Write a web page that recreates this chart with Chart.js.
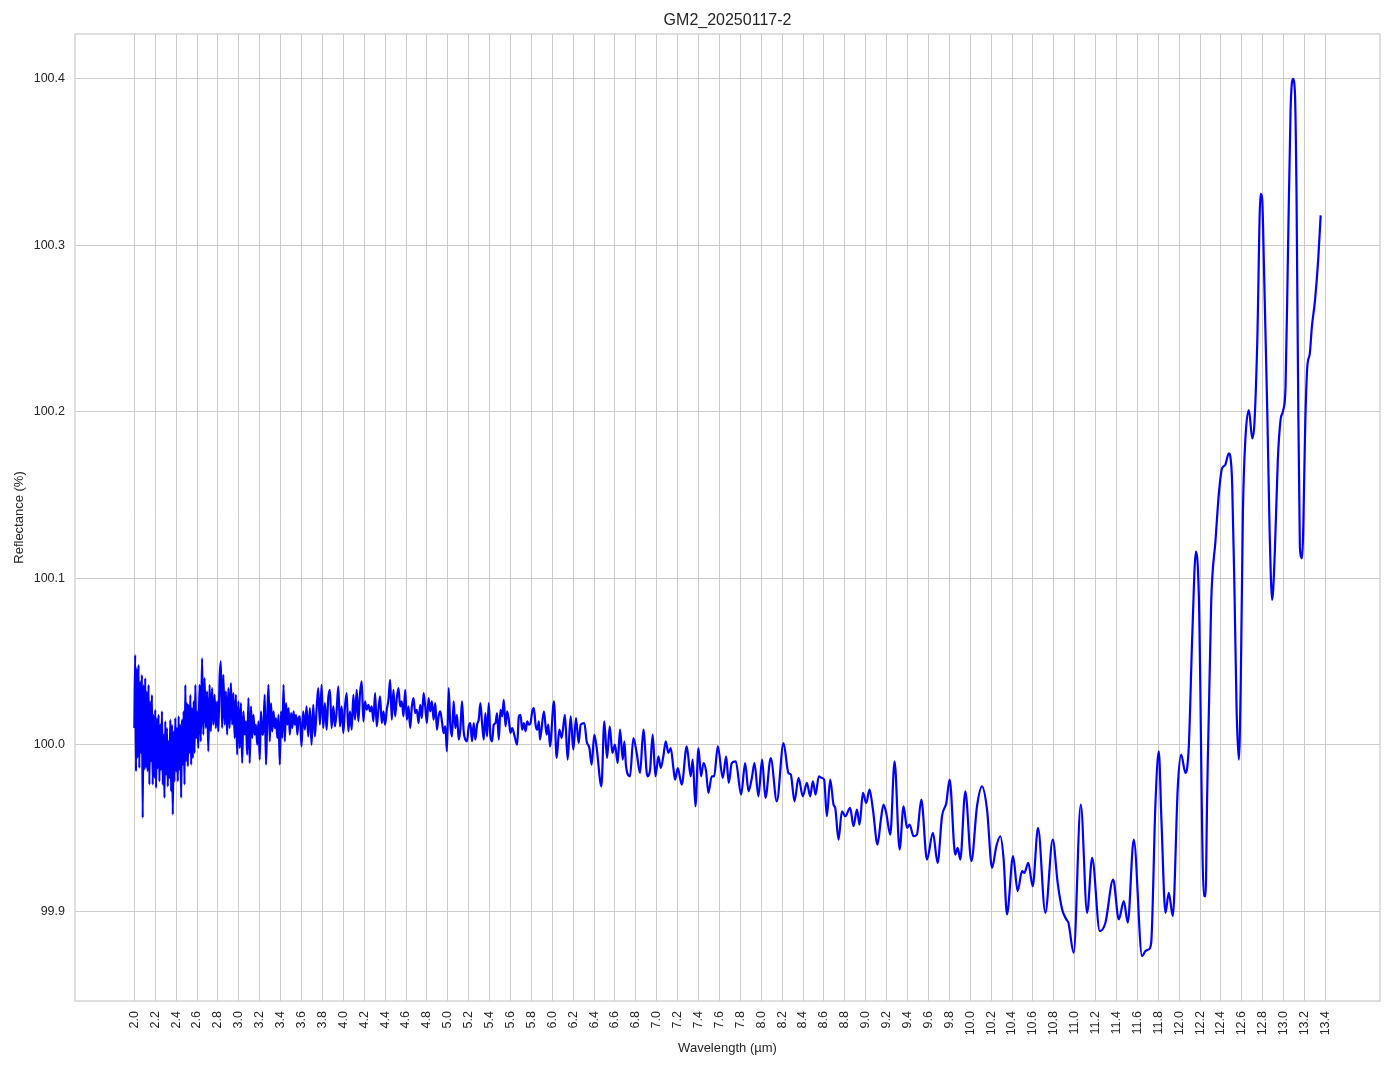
<!DOCTYPE html>
<html>
<head>
<meta charset="utf-8">
<script src="https://cdn.jsdelivr.net/npm/chart.js@4.4.1/dist/chart.umd.min.js"></script>
<style>
  html, body { margin: 0; padding: 0; background: #fff; }
  #myChart { display: block; }
</style>
</head>
<body>
<canvas id="myChart" width="1394" height="1069"></canvas>
<script>
// Datos
const titulo = 'GM2_20250117-2';

// Tramos con muestreo regular: inicio y paso en µm
const tramoInicio = [2.0, 2.6, 3.584];
const tramoPaso = [0.008, 0.012, 0.016];

const reflA = [
  100.010, 100.054, 99.984, 100.046, 99.992, 100.048, 99.986, 100.038, 99.995, 100.042,
  99.956, 100.036, 99.985, 100.040, 99.986, 100.032, 99.984, 100.036, 99.976, 100.026,
  99.990, 100.030, 99.976, 100.018, 99.980, 100.021, 99.974, 100.016, 99.986, 100.018,
  99.978, 100.012, 99.985, 100.020, 99.976, 100.006, 99.968, 100.014, 99.982, 100.010,
  99.975, 100.002, 99.980, 100.015, 99.972, 100.012, 99.958, 100.008, 99.978, 100.016,
  99.984, 100.010, 99.978, 100.017, 99.985, 100.012, 99.968, 100.015, 99.988, 100.020,
  99.976, 100.036, 99.990, 100.025, 99.987, 100.024, 99.995, 100.030, 99.988, 100.022,
  99.992, 100.026, 99.995, 100.036, 100.004
];

const reflB = [
  100.020, 99.998, 100.036, 100.002, 100.052, 100.006, 100.040, 100.010, 100.032, 99.996,
  100.036, 100.008, 100.034, 100.012, 100.030, 100.010, 100.026, 100.008, 100.040, 100.050,
  100.010, 100.042, 100.012, 100.032, 100.006, 100.034, 100.010, 100.037, 100.012, 100.031,
  100.004, 100.030, 99.994, 100.026, 99.998, 100.025, 99.989, 100.020, 100.006, 100.014,
  99.994, 100.028, 99.989, 100.023, 100.004, 100.018, 100.006, 100.012, 100.000, 100.014,
  99.991, 100.020, 100.006, 100.010, 100.030, 99.988, 100.016, 100.036, 100.002, 100.025,
  100.008, 100.020, 100.010, 100.016, 100.004, 100.018, 99.988, 100.020, 100.004, 100.036,
  100.002, 100.025, 100.012, 100.022, 100.006, 100.019, 100.010, 100.020, 100.012, 100.018,
  100.006, 100.016
];

const reflC = [
  100.017, 99.999, 100.020, 100.009, 100.023, 100.005, 100.022, 100.000, 100.024, 100.005,
  100.021, 100.034, 100.012, 100.036, 100.010, 100.025, 100.009, 100.028, 100.033, 100.010,
  100.023, 100.011, 100.020, 100.035, 100.011, 100.023, 100.007, 100.023, 100.031, 100.008,
  100.020, 100.009, 100.030, 100.015, 100.033, 100.014, 100.031, 100.038, 100.014, 100.026,
  100.021, 100.024, 100.020, 100.023, 100.014, 100.031, 100.011, 100.021, 100.029, 100.013,
  100.020, 100.012, 100.021, 100.027, 100.039, 100.015, 100.033, 100.017, 100.028, 100.034,
  100.023, 100.026, 100.017, 100.033, 100.015, 100.023, 100.010, 100.023, 100.028, 100.019,
  100.021, 100.013, 100.024, 100.016, 100.031, 100.023, 100.013, 100.028, 100.020, 100.026,
  100.015, 100.025, 100.009, 100.017, 100.020, 100.014, 100.007, 100.011, 99.996, 100.034,
  100.012, 100.005, 100.026, 100.010, 100.018, 100.003, 100.009, 100.026, 100.008, 100.003,
  100.002, 100.011, 100.013, 100.002, 100.013, 100.003, 100.012, 100.015, 100.025, 100.013,
  100.003, 100.019, 100.005, 100.025, 100.005, 100.002, 100.012, 100.013, 100.019, 100.003,
  100.021, 100.017, 100.027, 100.011, 100.020, 100.015, 100.007, 100.010, 100.007, 100.003,
  100.000, 100.017, 100.018, 100.009, 100.013, 100.008, 100.014, 100.012, 100.013, 100.020,
  100.022, 100.012, 100.009, 100.014
];

// Tramo final con muestreo irregular
const waveD = [
  5.882, 5.920, 5.946, 5.962, 5.978, 6.016, 6.042, 6.067, 6.090, 6.121,
  6.147, 6.176, 6.201, 6.227, 6.252, 6.272, 6.307, 6.329, 6.355, 6.377,
  6.402, 6.425, 6.470, 6.498, 6.524, 6.550, 6.575, 6.600, 6.626, 6.648,
  6.675, 6.690, 6.706, 6.744, 6.776, 6.808, 6.840, 6.872, 6.910, 6.936,
  6.961, 6.987, 7.016, 7.038, 7.063, 7.086, 7.111, 7.134, 7.159, 7.175,
  7.201, 7.239, 7.287, 7.325, 7.344, 7.370, 7.399, 7.424, 7.447, 7.472,
  7.494, 7.526, 7.549, 7.584, 7.632, 7.664, 7.689, 7.718, 7.756, 7.807,
  7.846, 7.878, 7.910, 7.935, 7.973, 8.008, 8.040, 8.091, 8.149, 8.213,
  8.260, 8.283, 8.318, 8.357, 8.398, 8.437, 8.468, 8.494, 8.520, 8.551,
  8.580, 8.602, 8.628, 8.660, 8.692, 8.708, 8.740, 8.772, 8.804, 8.851,
  8.883, 8.916, 8.941, 8.973, 9.005, 9.036, 9.069, 9.113, 9.145, 9.170,
  9.196, 9.235, 9.276, 9.324, 9.362, 9.395, 9.420, 9.458, 9.490, 9.532,
  9.586, 9.643, 9.688, 9.730, 9.771, 9.803, 9.857, 9.880, 9.905, 9.953,
  10.011, 10.065, 10.113, 10.161, 10.209, 10.250, 10.288, 10.320, 10.352, 10.410,
  10.454, 10.496, 10.518, 10.556, 10.598, 10.649, 10.719, 10.790, 10.837, 10.880,
  10.920, 10.940, 10.990, 11.058, 11.119, 11.167, 11.240, 11.294, 11.368, 11.422,
  11.470, 11.508, 11.565, 11.645, 11.677, 11.709, 11.732, 11.773, 11.805, 11.830,
  11.869, 11.900, 11.939, 11.987, 12.019, 12.060, 12.092, 12.125, 12.160, 12.188,
  12.236, 12.252, 12.268, 12.306, 12.348, 12.380, 12.410, 12.440, 12.475, 12.490,
  12.507, 12.530, 12.550, 12.571, 12.590, 12.610, 12.635, 12.667, 12.700, 12.720,
  12.747, 12.779, 12.795, 12.810, 12.843, 12.865, 12.890, 12.915, 12.944, 12.970,
  12.996, 13.018, 13.040, 13.066, 13.088, 13.107, 13.123, 13.136, 13.155, 13.176,
  13.210, 13.226, 13.250, 13.270, 13.300, 13.330, 13.354
];
const reflD = [
  100.003, 100.020, 100.006, 100.012, 99.999, 100.026, 99.992, 100.009, 100.004, 100.018,
  99.991, 100.017, 99.997, 100.016, 100.001, 100.012, 100.013, 100.002, 99.998, 99.988,
  100.006, 99.998, 99.975, 100.014, 99.992, 100.011, 99.995, 100.000, 99.989, 100.009,
  99.991, 100.002, 99.987, 99.981, 100.004, 99.995, 99.983, 100.009, 99.981, 99.985,
  100.006, 99.981, 99.993, 99.986, 99.993, 100.002, 99.995, 99.998, 99.986, 99.979,
  99.986, 99.976, 99.999, 99.981, 99.991, 99.963, 99.998, 99.981, 99.989, 99.984,
  99.971, 99.981, 99.981, 99.999, 99.980, 99.993, 99.977, 99.989, 99.990, 99.970,
  99.989, 99.972, 99.980, 99.989, 99.969, 99.991, 99.968, 99.992, 99.966, 100.001,
  99.983, 99.982, 99.966, 99.980, 99.969, 99.977, 99.969, 99.978, 99.970, 99.981,
  99.980, 99.979, 99.957, 99.979, 99.964, 99.962, 99.943, 99.960, 99.957, 99.962,
  99.951, 99.961, 99.952, 99.971, 99.965, 99.973, 99.961, 99.940, 99.955, 99.964,
  99.959, 99.946, 99.990, 99.937, 99.963, 99.950, 99.952, 99.945, 99.946, 99.967,
  99.931, 99.947, 99.929, 99.957, 99.965, 99.979, 99.934, 99.938, 99.931, 99.972,
  99.930, 99.963, 99.975, 99.961, 99.926, 99.939, 99.945, 99.931, 99.898, 99.933,
  99.912, 99.924, 99.923, 99.929, 99.915, 99.950, 99.899, 99.943, 99.917, 99.901,
  99.895, 99.893, 99.875, 99.964, 99.899, 99.932, 99.888, 99.893, 99.919, 99.895,
  99.906, 99.893, 99.943, 99.873, 99.876, 99.877, 99.881, 99.965, 99.996, 99.955,
  99.899, 99.911, 99.897, 99.975, 99.994, 99.983, 99.999, 100.065, 100.116, 100.090,
  99.909, 99.909, 99.970, 100.085, 100.123, 100.151, 100.166, 100.168, 100.175, 100.173,
  100.157, 100.090, 100.020, 99.991, 100.040, 100.140, 100.185, 100.201, 100.184, 100.193,
  100.241, 100.331, 100.327, 100.291, 100.201, 100.130, 100.087, 100.115, 100.171, 100.195,
  100.201, 100.215, 100.291, 100.381, 100.400, 100.393, 100.331, 100.231, 100.119, 100.112,
  100.201, 100.227, 100.235, 100.251, 100.267, 100.291, 100.318
];

// Marcas de los ejes
const xTicks = [
  2.0, 2.2, 2.4, 2.6, 2.8, 3.0, 3.2, 3.4, 3.6, 3.8,
  4.0, 4.2, 4.4, 4.6, 4.8, 5.0, 5.2, 5.4, 5.6, 5.8,
  6.0, 6.2, 6.4, 6.6, 6.8, 7.0, 7.2, 7.4, 7.6, 7.8,
  8.0, 8.2, 8.4, 8.6, 8.8, 9.0, 9.2, 9.4, 9.6, 9.8,
  10.0, 10.2, 10.4, 10.6, 10.8, 11.0, 11.2, 11.4, 11.6, 11.8,
  12.0, 12.2, 12.4, 12.6, 12.8, 13.0, 13.2, 13.4
];
const yTicks = [99.9, 100.0, 100.1, 100.2, 100.3, 100.4];

const fuente = '"Liberation Sans", Arial, sans-serif';
const gris = '#262626';

/**
 * * Construye los puntos {x, y} del espectro
 */
function construir_puntos() {
  let puntos = [];
  [reflA, reflB, reflC].forEach((valores, t) => {
    valores.forEach((v, i) => {
      puntos.push({ x: +(tramoInicio[t] + i * tramoPaso[t]).toFixed(4), y: v });
    });
  });
  waveD.forEach((w, i) => puntos.push({ x: w, y: reflD[i] }));
  return puntos;
}

// Marco y título
const marco = {
  id: 'marco',
  beforeDatasetsDraw(chart) {
    const { ctx, chartArea: a } = chart;
    ctx.save();
    ctx.strokeStyle = '#cccccc';
    ctx.lineWidth = 1.25;
    ctx.strokeRect(a.left, a.top, a.right - a.left, a.bottom - a.top);
    ctx.restore();
  },
  afterDraw(chart) {
    const { ctx, chartArea: a } = chart;
    ctx.save();
    ctx.font = '16px ' + fuente;
    ctx.fillStyle = gris;
    ctx.textAlign = 'center';
    ctx.textBaseline = 'middle';
    ctx.fillText(titulo, (a.left + a.right) / 2, 21);
    ctx.restore();
  }
};

const ctx = document.getElementById('myChart');
new Chart(ctx, {
  type: 'line',
  data: {
    datasets: [{
      data: construir_puntos(),
      borderColor: '#0000ff',
      borderWidth: 2.2,
      pointRadius: 0,
      cubicInterpolationMode: 'monotone',
      fill: false
    }]
  },
  options: {
    responsive: false,
    animation: false,
    layout: { padding: { top: 34, right: 14, bottom: 0, left: 0 } },
    plugins: {
      legend: { display: false },
      tooltip: { enabled: false }
    },
    scales: {
      x: {
        type: 'linear',
        min: 1.432,
        max: 13.922,
        afterFit: (s) => { s.height = 68; },
        afterBuildTicks: (s) => { s.ticks = xTicks.map(v => ({ value: v })); },
        grid: { color: '#cccccc', lineWidth: 1, drawTicks: false },
        border: { display: false },
        ticks: {
          autoSkip: false,
          maxRotation: 90,
          minRotation: 90,
          padding: 10,
          color: gris,
          font: { family: fuente, size: 12.5 },
          callback: (v) => Number(v).toFixed(1)
        },
        title: {
          display: true,
          text: 'Wavelength (µm)',
          color: gris,
          font: { family: fuente, size: 13 },
          padding: { top: 0, bottom: 13 }
        }
      },
      y: {
        type: 'linear',
        min: 99.846,
        max: 100.427,
        afterFit: (s) => { s.width = 75; },
        afterBuildTicks: (s) => { s.ticks = yTicks.map(v => ({ value: v })); },
        grid: { color: '#cccccc', lineWidth: 1, drawTicks: false },
        border: { display: false },
        ticks: {
          padding: 10,
          color: gris,
          font: { family: fuente, size: 12.5 },
          callback: (v) => Number(v).toFixed(1)
        },
        title: {
          display: true,
          text: 'Reflectance (%)',
          color: gris,
          font: { family: fuente, size: 13 },
          padding: { top: 12, bottom: 0 }
        }
      }
    }
  },
  plugins: [marco]
});
</script>
</body>
</html>
